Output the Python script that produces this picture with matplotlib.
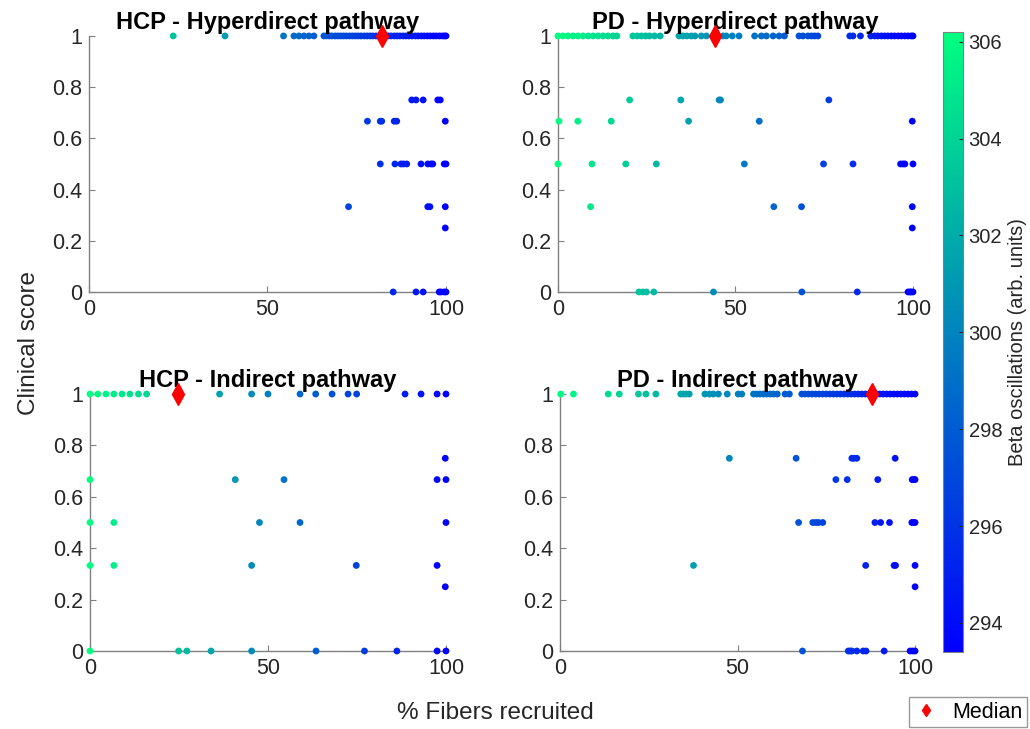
import numpy as np
import matplotlib
matplotlib.use("Agg")
import matplotlib.pyplot as plt
from matplotlib.colors import Normalize
from matplotlib.cm import ScalarMappable
from matplotlib.lines import Line2D

plt.rcParams['font.family'] = ['Liberation Sans', 'DejaVu Sans']

# ---- data: (% fibers recruited, clinical score) ----
titles = ["HCP - Hyperdirect pathway", "PD - Hyperdirect pathway",
          "HCP - Indirect pathway", "PD - Indirect pathway"]

hcp_hyper_x = [23.6, 38.1, 54.5, 57.4, 58.8, 60.2, 61.6, 63.0,
               65.8, 66.5, 67.3, 68.0, 68.9, 69.7, 70.5, 71.3, 72.1, 73.0, 73.8, 74.6,
               75.4, 76.2, 77.1, 77.9, 78.7, 79.5, 80.4, 81.2, 83.0, 83.8, 84.6, 85.5,
               86.3, 87.1, 88.0, 88.8, 89.6, 90.5, 91.4, 92.2, 93.1, 93.9, 94.8, 95.6,
               96.5, 97.3, 98.2, 99.0, 99.6, 100,
               90.4, 91.6, 93.6, 97.7, 98.4,
               78.0, 81.6, 82.0, 85.5, 86.2, 99.8,
               81.6, 85.7, 87.4, 88.1, 89.0, 93.0, 94.9, 95.8, 96.3, 99.5, 100,
               72.7, 94.9, 95.5, 99.8,
               99.8,
               85.2, 91.6, 93.6, 98.1, 98.6, 99.5, 100]
hcp_hyper_y = [1] * 50 + [0.75] * 5 + [0.667] * 6 + [0.5] * 11 + [0.333] * 4 + [0.25] + [0] * 7

pd_hyper_x = [0, 1.4, 2.8, 4.2, 5.6, 7.0, 8.5, 9.9, 11.3, 12.7, 14.1, 15.5, 16.6,
              21.1, 22.3, 23.5, 24.7, 25.8, 27.2, 28.8,
              34.1, 35.2, 36.3, 37.6, 38.6, 40.4, 41.8,
              46.5, 47.4, 49.1, 51.0, 55.4, 57.3, 58.7, 60.6, 62.3, 63.8,
              67.9, 69.0, 70.4, 71.4, 72.3, 73.2, 82.2, 83.1, 85.2,
              88.1, 89.2, 90.1, 91.1, 92.0, 92.9, 93.9, 94.8, 95.8, 96.7, 97.7, 98.6, 99.5, 100,
              20.2, 34.6, 45.4, 45.8, 76.3,
              0.3, 5.6, 15.0, 36.8, 56.7, 99.8,
              0, 9.6, 19.1, 27.7, 52.5, 74.8, 83.1, 96.5, 97.2, 97.7, 100,
              9.2, 60.8, 68.6, 99.8,
              99.8,
              22.8, 23.9, 24.9, 27.0, 43.8, 68.7, 84.3, 98.6, 99.1, 99.5, 100]
pd_hyper_y = [1] * 60 + [0.75] * 5 + [0.667] * 6 + [0.5] * 11 + [0.333] * 4 + [0.25] + [0] * 11

hcp_ind_x = [0, 2.2, 4.5, 6.7, 9.0, 11.2, 13.6, 15.9, 36.4, 45.4, 50.0, 59.0, 63.4,
             68.0, 72.5, 74.9, 88.5, 93.0, 97.5, 100,
             99.8,
             0, 40.8, 54.5, 97.5, 100,
             0, 6.7, 47.6, 59.0, 100,
             0, 6.7, 45.4, 74.8, 97.5,
             99.8,
             0, 24.9, 27.2, 34.0, 45.4, 63.5, 77.1, 86.2, 97.5, 100]
hcp_ind_y = [1] * 20 + [0.75] + [0.667] * 5 + [0.5] * 5 + [0.333] * 5 + [0.25] + [0] * 10

pd_ind_x = [0.2, 3.8, 13.6, 16.7, 22.1, 24.2, 27.0, 34.0, 34.7, 35.5, 36.4,
            40.8, 42.1, 43.2, 44.6, 47.1, 50.2, 51.2,
            54.5, 55.4, 56.3, 57.3, 58.2, 59.2, 60.1, 61.2, 63.4, 64.6,
            68.1, 69.0, 70.0, 71.0, 72.0, 73.0, 74.0, 75.0, 76.0, 77.0, 78.0, 79.0,
            80.0, 81.0, 82.0, 83.0, 84.0, 85.0, 86.0, 87.0, 89.0, 90.0, 91.0, 92.0,
            93.0, 94.0, 95.0, 96.0, 97.0, 98.0, 99.0, 100,
            47.7, 66.5, 82.2, 82.8, 83.6, 94.4,
            77.7, 80.9, 89.5, 99.2, 99.7, 100,
            67.2, 71.2, 72.1, 72.8, 74.0, 88.7, 90.3, 92.8, 99.1, 99.5, 100,
            37.6, 86.1, 94.1, 94.5, 100,
            100,
            68.3, 81.2, 81.7, 82.2, 83.6, 85.4, 86.2, 91.3, 98.6, 99.3, 100]
pd_ind_y = [1] * 60 + [0.75] * 6 + [0.667] * 6 + [0.5] * 11 + [0.333] * 5 + [0.25] + [0] * 11

median_x = [82.0, 44.3, 24.8, 87.8]
median_y = [1, 1, 1, 1]

beta_min, beta_max = 293.4, 306.2
cbar_ticks = [294, 296, 298, 300, 302, 304, 306]

xs = [hcp_hyper_x, pd_hyper_x, hcp_ind_x, pd_ind_x]
ys = [hcp_hyper_y, pd_hyper_y, hcp_ind_y, pd_ind_y]

fig = plt.figure(figsize=(10.3, 7.29), dpi=100)
positions = [[0.0864, 0.5995, 0.3466, 0.3512],
             [0.5417, 0.5995, 0.3447, 0.3512],
             [0.0874, 0.1070, 0.3456, 0.3525],
             [0.5437, 0.1070, 0.3447, 0.3525]]

axis_gray = "#808080"
text_gray = "#262626"

for i in range(4):
    ax = fig.add_axes(positions[i])
    # beta oscillations fall with recruitment: colour follows % fibers
    ax.scatter(xs[i], ys[i], c=xs[i], cmap="winter_r", vmin=0, vmax=100,
               s=24, linewidths=0, clip_on=False, zorder=3)
    ax.plot(median_x[i], median_y[i], marker="d", color="red", markersize=11,
            linestyle="none", clip_on=False, zorder=4)
    ax.set_xlim(0, 100)
    ax.set_ylim(0, 1)
    ax.set_xticks([0, 50, 100])
    ax.set_yticks([0, 0.2, 0.4, 0.6, 0.8, 1])
    ax.set_yticklabels(["0", "0.2", "0.4", "0.6", "0.8", "1"])
    for side in ["top", "right"]:
        ax.spines[side].set_visible(False)
    for side in ["left", "bottom"]:
        ax.spines[side].set_color(axis_gray)
        ax.spines[side].set_linewidth(1.0)
    ax.tick_params(direction="in", length=4, color=axis_gray, labelcolor=text_gray,
                   labelsize=15.5, pad=5)
    ax.set_title(titles[i], fontsize=17, fontweight="bold", pad=5)

fig.text(0.028, 0.530, "Clinical score", rotation=90, ha="center", va="center",
         fontsize=17.5, color=text_gray)
fig.text(0.481, 0.022, "% Fibers recruited", ha="center", va="center",
         fontsize=17.5, color=text_gray)

cax = fig.add_axes([0.9155, 0.1056, 0.0194, 0.8505])
sm = ScalarMappable(norm=Normalize(beta_min, beta_max), cmap="winter")
cb = fig.colorbar(sm, cax=cax, ticks=cbar_ticks)
cb.outline.set_edgecolor(axis_gray)
cb.outline.set_linewidth(0.8)
cax.tick_params(direction="in", length=3, color=text_gray, labelcolor=text_gray,
                labelsize=14.5, pad=4)
cb.set_label("Beta oscillations (arb. units)", fontsize=14.5, color=text_gray, labelpad=4)

handle = Line2D([], [], marker="d", color="red", linestyle="none", markersize=6)
fig.legend([handle], ["Median"], loc="lower right", bbox_to_anchor=(0.999, 0.0),
           fontsize=15.5, frameon=True, fancybox=False, edgecolor=axis_gray,
           handlelength=1.2, handletextpad=0.6, borderpad=0.2, borderaxespad=0.1)

fig.savefig("out.png", dpi=100)
